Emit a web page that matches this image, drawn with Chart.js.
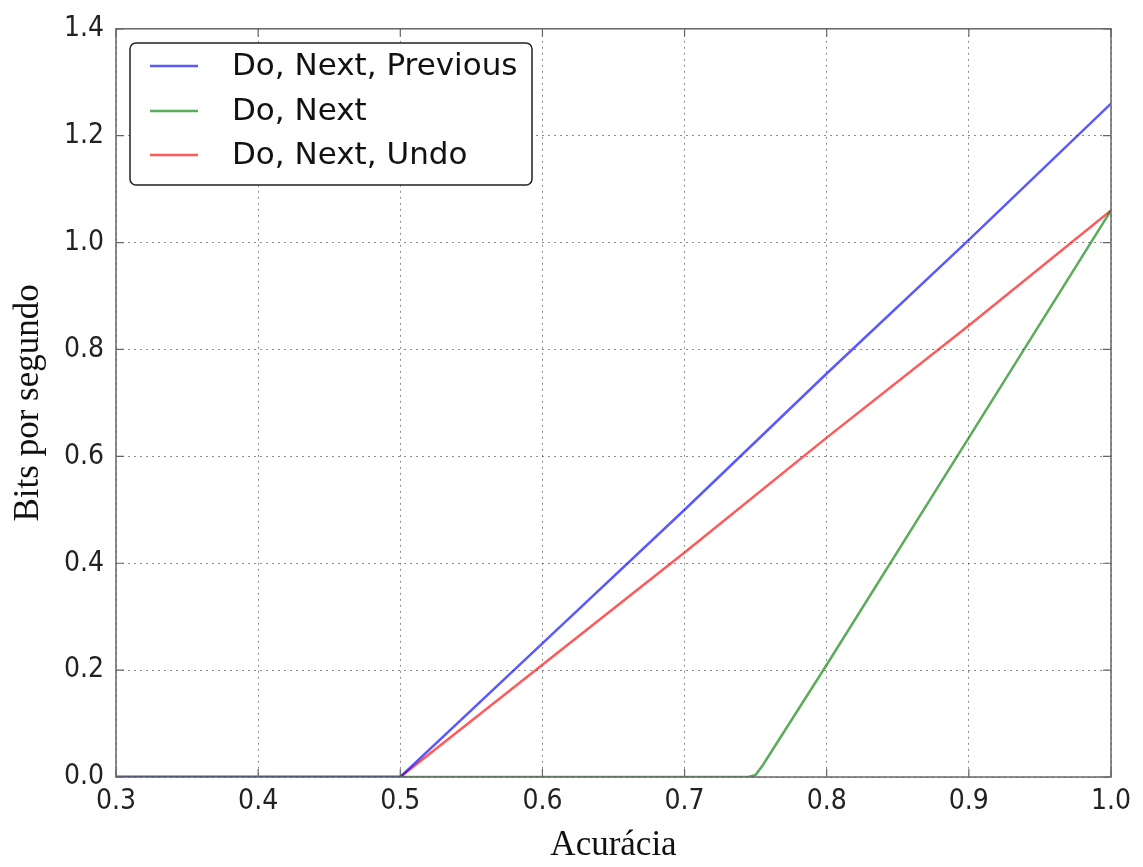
<!DOCTYPE html>
<html lang="pt">
<head>
    <meta charset="UTF-8">
    <title>Bits por segundo x Acurácia</title>
    <script src="https://cdn.jsdelivr.net/npm/chart.js"></script>
    <style>
        html, body { margin: 0; padding: 0; background: #fff; }
        #wrap { width: 1143px; height: 867px; }
    </style>
</head>
<body>
<div id="wrap"><canvas id="itrChart" width="1143" height="867"></canvas></div>
<script>
    // values
    const seriesNames = ['Do, Next, Previous', 'Do, Next', 'Do, Next, Undo'];
    const accBlue  = [0.3, 0.4, 0.5, 0.6, 0.7, 0.8, 0.9, 1.0];
    const bitsBlue = [0, 0, 0, 0.25, 0.50, 0.755, 1.005, 1.26];
    const accGreen  = [0.3, 0.4, 0.5, 0.6, 0.7, 0.745, 0.75, 0.755, 0.8, 0.9, 1.0];
    const bitsGreen = [0, 0, 0, 0, 0, 0, 0.004, 0.022, 0.21, 0.635, 1.06];
    const accRed  = [0.3, 0.4, 0.5, 0.6, 0.7, 0.8, 0.9, 1.0];
    const bitsRed = [0, 0, 0, 0.21, 0.42, 0.635, 0.845, 1.06];
    const xTicks = [0.3, 0.4, 0.5, 0.6, 0.7, 0.8, 0.9, 1.0];
    const yTicks = [0.0, 0.2, 0.4, 0.6, 0.8, 1.0, 1.2, 1.4];

    const colors = ['rgba(0,0,255,0.65)', 'rgba(0,128,0,0.65)', 'rgba(255,0,0,0.65)'];

    function pts(xs, ys) {
        return xs.map((x, i) => ({ x: x, y: ys[i] }));
    }

    // box, inward ticks and legend drawn like matplotlib
    const frame = {
        id: 'frame',
        afterDraw(chart) {
            const c = chart.ctx, a = chart.chartArea;
            const xs = chart.scales.x, ys = chart.scales.y;
            c.save();
            c.strokeStyle = '#666';
            c.lineWidth = 1.5;
            c.strokeRect(a.left, a.top, a.right - a.left, a.bottom - a.top);
            c.lineWidth = 1.2;
            c.beginPath();
            xTicks.forEach(v => {
                const px = xs.getPixelForValue(v);
                c.moveTo(px, a.bottom); c.lineTo(px, a.bottom - 8);
                c.moveTo(px, a.top); c.lineTo(px, a.top + 8);
            });
            yTicks.forEach(v => {
                const py = ys.getPixelForValue(v);
                c.moveTo(a.left, py); c.lineTo(a.left + 8, py);
                c.moveTo(a.right, py); c.lineTo(a.right - 8, py);
            });
            c.stroke();

            // legend
            const bx = 130, by = 43, bw = 402, bh = 142, r = 6;
            c.beginPath();
            c.moveTo(bx + r, by);
            c.arcTo(bx + bw, by, bx + bw, by + bh, r);
            c.arcTo(bx + bw, by + bh, bx, by + bh, r);
            c.arcTo(bx, by + bh, bx, by, r);
            c.arcTo(bx, by, bx + bw, by, r);
            c.closePath();
            c.fillStyle = '#fff';
            c.fill();
            c.strokeStyle = '#222';
            c.lineWidth = 1.5;
            c.stroke();
            const rows = [66, 111, 155];
            c.font = '31px "DejaVu Sans", sans-serif';
            c.textBaseline = 'middle';
            chart.data.datasets.forEach((ds, i) => {
                c.strokeStyle = ds.borderColor;
                c.lineWidth = 2.5;
                c.beginPath();
                c.moveTo(150, rows[i]); c.lineTo(198, rows[i]);
                c.stroke();
                c.fillStyle = '#111';
                c.fillText(ds.label, 232, rows[i] + 1);
            });
            c.restore();
        }
    };

    const tickFont = { family: '"DejaVu Sans Condensed", "DejaVu Sans", sans-serif', size: 28 };
    const titleFont = { family: '"Liberation Serif", "Times New Roman", serif', size: 35 };

    new Chart(document.getElementById('itrChart'), {
        type: 'line',
        data: {
            datasets: [
                { label: seriesNames[0], data: pts(accBlue, bitsBlue), borderColor: colors[0] },
                { label: seriesNames[1], data: pts(accGreen, bitsGreen), borderColor: colors[1] },
                { label: seriesNames[2], data: pts(accRed, bitsRed), borderColor: colors[2] }
            ].map(d => Object.assign(d, { borderWidth: 2.5, pointRadius: 0, fill: false, tension: 0 }))
        },
        options: {
            responsive: false,
            animation: false,
            layout: { padding: { top: 28, right: 32, left: 0, bottom: 0 } },
            plugins: { legend: { display: false }, tooltip: { enabled: false } },
            scales: {
                x: {
                    type: 'linear', min: 0.3, max: 1.0,
                    afterBuildTicks: s => { s.ticks = xTicks.map(v => ({ value: v })); },
                    afterFit: s => { s.height = 90; },
                    ticks: { font: tickFont, color: '#222', padding: 8, maxRotation: 0,
                             callback: v => v.toFixed(1) },
                    grid: { color: 'rgba(0,0,0,0.45)', drawTicks: false, lineWidth: 1 },
                    border: { display: false, dash: [2, 4] },
                    title: { display: true, text: 'Acurácia', font: titleFont, color: '#111', padding: { top: 0, bottom: 0 } }
                },
                y: {
                    type: 'linear', min: 0, max: 1.4,
                    afterBuildTicks: s => { s.ticks = yTicks.map(v => ({ value: v })); },
                    afterFit: s => { s.width = 116; },
                    ticks: { font: tickFont, color: '#222', padding: 12,
                             callback: v => v.toFixed(1) },
                    grid: { color: 'rgba(0,0,0,0.45)', drawTicks: false, lineWidth: 1 },
                    border: { display: false, dash: [2, 4] },
                    title: { display: true, text: 'Bits por segundo', font: titleFont, color: '#111', padding: { top: 8, bottom: 0 } }
                }
            }
        },
        plugins: [frame]
    });
</script>
</body>
</html>
